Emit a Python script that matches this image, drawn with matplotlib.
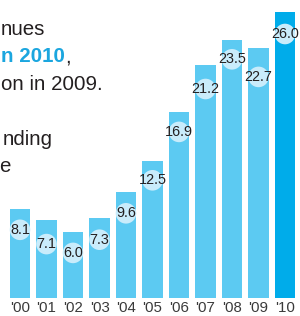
import matplotlib
matplotlib.use("Agg")
import matplotlib.pyplot as plt

# revenue per year (billions)
years = ["'00", "'01", "'02", "'03", "'04", "'05", "'06", "'07", "'08", "'09", "'10"]
values = [8.1, 7.1, 6.0, 7.3, 9.6, 12.5, 16.9, 21.2, 23.5, 22.7, 26.0]
value_labels = ["8.1", "7.1", "6.0", "7.3", "9.6", "12.5", "16.9", "21.2", "23.5", "22.7", "26.0"]

# how far each label sits below its bar top (avoids overlaps)
label_drop = [1.9, 2.2, 1.9, 2.0, 1.9, 1.8, 1.8, 2.2, 1.8, 2.6, 2.0]

bar_color = "#5ccaf2"
last_color = "#00acea"
bubble_color = "#c9ecfb"
text_color = "#231f20"
blue_text = "#1ba6df"

plain = ["Liberation Sans", "DejaVu Sans"]

fig = plt.figure(figsize=(3.0, 3.16), dpi=100)
ax = fig.add_axes([0.0225, 18 / 316, 0.9717, 298 / 316])

x = list(range(len(values)))
colors = [bar_color] * (len(values) - 1) + [last_color]
ax.bar(x, values, width=0.76, color=colors, zorder=1)

label_y = [v - d for v, d in zip(values, label_drop)]
ax.scatter(x, label_y, s=220, color=bubble_color, edgecolors="none", zorder=2)
for xi, yi, lab in zip(x, label_y, value_labels):
    ax.text(xi, yi, lab, ha="center", va="center", fontsize=10.4,
            family=plain, color=text_color, zorder=3)

ax.set_xlim(-0.5, len(values) - 0.5)
ax.set_ylim(0, 298 / 11)
ax.set_xticks(x)
ax.set_xticklabels(years, family=plain, fontsize=10.8, color="#3a3a3a")
ax.tick_params(axis="x", length=0, pad=2)
ax.set_yticks([])
for s in ax.spines.values():
    s.set_visible(False)
ax.patch.set_alpha(0)

# headline text, cut off at the left edge as in the original
fs = 14.8
def line(xr, yb, s, **kw):
    fig.text(xr / 300, 1 - yb / 316, s, ha="right", va="baseline",
             fontsize=fs, family=plain, color=kw.pop("color", text_color), **kw)

line(45, 35, "nues")
line(65, 62.5, "n 2010", color=blue_text, weight="bold")
line(71, 62.5, ",")
line(103, 90, "on in 2009.")
line(53, 145, "nding")
line(11, 172.5, "e")

fig.savefig("out.png", dpi=100)
